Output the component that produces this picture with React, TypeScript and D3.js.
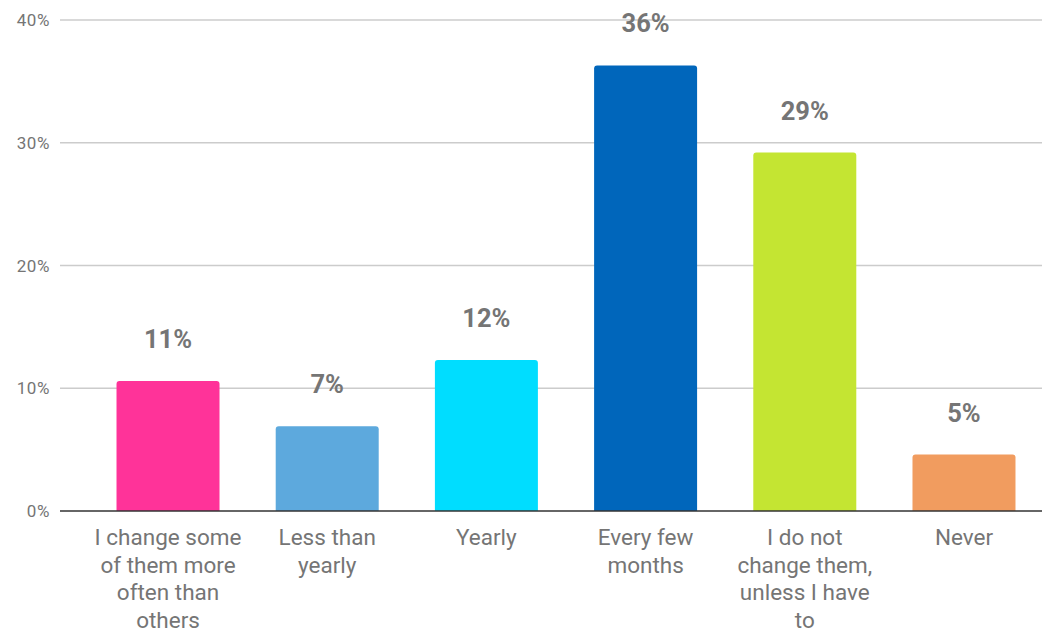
import React from "react";
import * as d3 from "d3";

const categories = [
  "I change some\nof them more\noften than\nothers",
  "Less than\nyearly",
  "Yearly",
  "Every few\nmonths",
  "I do not\nchange them,\nunless I have\nto",
  "Never",
];
const values = [10.6, 6.9, 12.3, 36.3, 29.2, 4.6];
const valueLabels = ["11%", "7%", "12%", "36%", "29%", "5%"];
const colors = ["#FF3399", "#5DA9DD", "#00DDFF", "#0066BB", "#C4E532", "#F19C5F"];
const yTicks = [0, 10, 20, 30, 40];

const W = 1042;
const H = 633;

export default function App() {
  const x = d3
    .scaleBand<number>()
    .domain(d3.range(categories.length))
    .range([60, 1072])
    .paddingInner(0.353)
    .paddingOuter(0.355);
  const y = d3.scaleLinear().domain([0, 40]).range([511, 20]);
  const bw = x.bandwidth();
  const r = 3;

  const barPath = (i: number) => {
    const x0 = x(i)!;
    const x1 = x0 + bw;
    const y0 = y(0);
    const y1 = y(values[i]);
    const p = d3.path();
    p.moveTo(x0, y0);
    p.lineTo(x0, y1 + r);
    p.quadraticCurveTo(x0, y1, x0 + r, y1);
    p.lineTo(x1 - r, y1);
    p.quadraticCurveTo(x1, y1, x1, y1 + r);
    p.lineTo(x1, y0);
    p.closePath();
    return p.toString();
  };

  return (
    <svg
      width={W}
      height={H}
      style={{ position: "absolute", left: 0, top: 0, fontFamily: "Roboto, sans-serif" }}
    >
      <rect width={W} height={H} fill="#fff" />
      {yTicks.map((t) => (
        <g key={t}>
          {t !== 0 && (
            <line x1={60} x2={W} y1={y(t)} y2={y(t)} stroke="#cccccc" strokeWidth={1.5} />
          )}
          <text
            x={50}
            y={y(t)}
            dy="0.36em"
            textAnchor="end"
            fontSize={17}
            fill="#757575"
            letterSpacing={0.6}
          >
            {t}%
          </text>
        </g>
      ))}
      {values.map((v, i) => (
        <path key={i} d={barPath(i)} fill={colors[i]} />
      ))}
      <line x1={60} x2={W} y1={y(0)} y2={y(0)} stroke="#333" strokeWidth={1.5} />
      {values.map((v, i) => (
        <text
          key={i}
          x={x(i)! + bw / 2}
          y={y(v) - 33}
          textAnchor="middle"
          fontSize={25.5}
          fontWeight="bold"
          fill="#757575"
        >
          {valueLabels[i]}
        </text>
      ))}
      {categories.map((c, i) => (
        <text
          key={i}
          x={x(i)! + bw / 2}
          y={545}
          textAnchor="middle"
          fontSize={22.5}
          fill="#757575"
        >
          {c.split("\n").map((ln, j) => (
            <tspan key={j} x={x(i)! + bw / 2} y={545 + j * 27.7}>
              {ln}
            </tspan>
          ))}
        </text>
      ))}
    </svg>
  );
}
